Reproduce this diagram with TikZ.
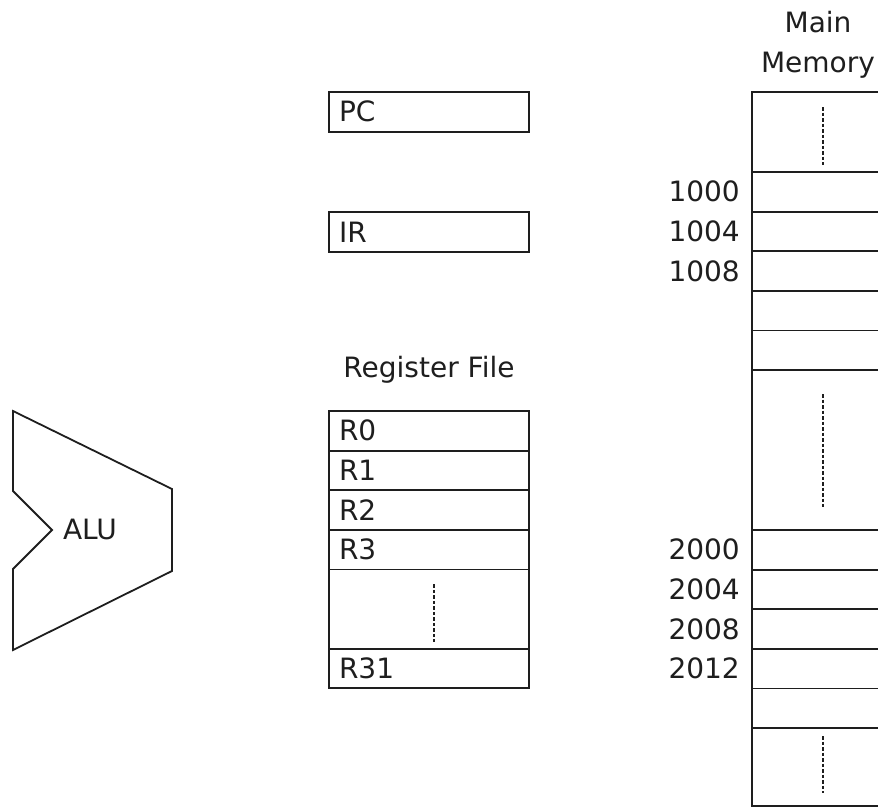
\documentclass[tikz,border=0pt]{standalone}
\usepackage{fontspec}
\setmainfont{DejaVu Sans}
\usetikzlibrary{positioning}
\definecolor{ink}{RGB}{30,30,30}

\begin{document}
\begin{tikzpicture}[x=1pt,y=-1pt,font=\fontsize{28}{40}\selectfont,text=ink,
  reg/.style={draw=ink,line width=1.8pt,outer sep=0pt,inner xsep=10pt,inner ysep=0pt,text width=180pt,minimum height=39.6pt,align=left},
  cell/.style={draw=ink,line width=1.8pt,outer sep=0pt,inner sep=0pt,minimum width=142pt,minimum height=39.6pt},
  addr/.style={inner sep=0pt},
  dots/.style={draw=ink,line width=2.8pt,dash pattern=on 3.5pt off 2pt}]
  \useasboundingbox (0,0) rectangle (878,808);
  \clip (0,0) rectangle (878,808);

  % ALU
  \draw[draw=ink,line width=1.8pt] (13,411) -- (13,491) -- (52,530) -- (13,569) -- (13,650)
    -- (172,571) -- (172,489) -- cycle;
  \node (alu) at (90,529) {ALU};

  % special registers
  \node[reg,anchor=north west] (pc) at (329,92) {PC};
  \node[reg,anchor=north west] (ir) at (329,212) {IR};

  % register file
  \node (rf) at (429,370) {Register File};
  \node[reg,anchor=north west] (r0) at (329,411) {R0};
  \node[reg,below=0pt of r0] (r1) {R1};
  \node[reg,below=0pt of r1] (r2) {R2};
  \node[reg,below=0pt of r2] (r3) {R3};
  \node[reg,below=0pt of r3,minimum height=79.2pt] (rgap) {};
  \node[reg,below=0pt of rgap] (r31) {R31};
  \draw[dots] ([xshift=5pt,yshift=-15pt]rgap.north) -- ([xshift=5pt,yshift=7pt]rgap.south);

  % main memory
  \node[align=center] (mm) at (818,45) {Main\\Memory};
  \node[cell,anchor=north west,minimum height=80pt] (mtop) at (752,92) {};
  \node[cell,below=0pt of mtop] (m1) {};
  \node[cell,below=0pt of m1] (m2) {};
  \node[cell,below=0pt of m2] (m3) {};
  \node[cell,below=0pt of m3] (m4) {};
  \node[cell,below=0pt of m4] (m5) {};
  \node[cell,below=0pt of m5,minimum height=160pt] (mgap) {};
  \node[cell,below=0pt of mgap] (m6) {};
  \node[cell,below=0pt of m6] (m7) {};
  \node[cell,below=0pt of m7] (m8) {};
  \node[cell,below=0pt of m8] (m9) {};
  \node[cell,below=0pt of m9] (m10) {};
  \node[cell,below=0pt of m10,minimum height=78pt] (mend) {};
  \draw[dots] ([yshift=-15pt]mtop.north) -- ([yshift=7pt]mtop.south);
  \draw[dots] ([yshift=-24pt]mgap.north) -- ([yshift=23pt]mgap.south);
  \draw[dots] ([yshift=-8pt]mend.north) -- ([yshift=13pt]mend.south);

  % addresses
  \node[addr,left=12pt of m1] (a1000) {1000};
  \node[addr,left=12pt of m2] (a1004) {1004};
  \node[addr,left=12pt of m3] (a1008) {1008};
  \node[addr,left=12pt of m6] (a2000) {2000};
  \node[addr,left=12pt of m7] (a2004) {2004};
  \node[addr,left=12pt of m8] (a2008) {2008};
  \node[addr,left=12pt of m9] (a2012) {2012};
\end{tikzpicture}
\end{document}
